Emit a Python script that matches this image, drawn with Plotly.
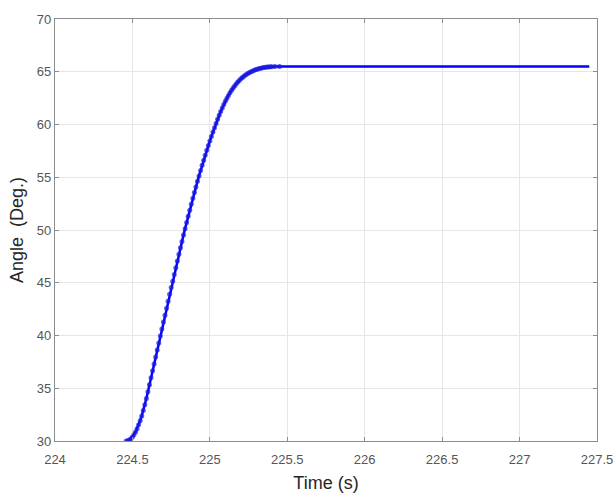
import plotly.graph_objects as go

# Time (s) and angle (deg)
time_s = [224.46, 224.47, 224.48, 224.49, 224.50, 224.51, 224.52, 224.53, 224.54, 224.55,
          224.56, 224.57, 224.58, 224.59, 224.60, 224.61, 224.62, 224.63, 224.64, 224.65,
          224.66, 224.67, 224.68, 224.69, 224.70, 224.71, 224.72, 224.73, 224.74, 224.75,
          224.76, 224.77, 224.78, 224.79, 224.80, 224.81, 224.82, 224.83, 224.84, 224.85,
          224.86, 224.87, 224.88, 224.89, 224.90, 224.91, 224.92, 224.93, 224.94, 224.95,
          224.96, 224.97, 224.98, 224.99, 225.00, 225.01, 225.02, 225.03, 225.04, 225.05,
          225.06, 225.07, 225.08, 225.09, 225.10, 225.11, 225.12, 225.13, 225.14, 225.15,
          225.16, 225.17, 225.18, 225.19, 225.20, 225.21, 225.22, 225.23, 225.24, 225.25,
          225.26, 225.27, 225.28, 225.29, 225.30, 225.31, 225.32, 225.33, 225.34, 225.35,
          225.36, 225.37, 225.38, 225.39, 225.40, 225.42, 225.45,
          225.50, 226.00, 226.50, 227.00, 227.45]
angle_deg = [30.00, 30.02, 30.10, 30.21, 30.38, 30.60, 30.86, 31.17, 31.53, 31.93,
             32.38, 32.88, 33.43, 34.03, 34.67, 35.33, 35.99, 36.65, 37.31, 37.97,
             38.63, 39.29, 39.95, 40.61, 41.27, 41.93, 42.59, 43.25, 43.90, 44.55,
             45.15, 45.79, 46.43, 47.06, 47.69, 48.31, 48.92, 49.53, 50.13, 50.72,
             51.31, 51.88, 52.45, 53.00, 53.55, 54.08, 54.61, 55.13, 55.63, 56.13,
             56.61, 57.09, 57.55, 58.00, 58.44, 58.87, 59.29, 59.70, 60.10, 60.49,
             60.87, 61.23, 61.57, 61.90, 62.21, 62.49, 62.76, 63.01, 63.24, 63.46,
             63.66, 63.85, 64.02, 64.18, 64.33, 64.46, 64.58, 64.69, 64.79, 64.88,
             64.96, 65.03, 65.10, 65.16, 65.21, 65.26, 65.30, 65.34, 65.37, 65.40,
             65.42, 65.44, 65.455, 65.47, 65.48, 65.495, 65.50,
             65.50, 65.50, 65.50, 65.50, 65.50]
# sample markers are only drawn where the record is densely sampled
marker_size = [5] * 97 + [0] * 5

x_ticks = [224, 224.5, 225, 225.5, 226, 226.5, 227, 227.5]
x_tick_labels = ["224", "224.5", "225", "225.5", "226", "226.5", "227", "227.5"]
y_ticks = [30, 35, 40, 45, 50, 55, 60, 65, 70]

fig = go.Figure()
fig.add_trace(go.Scatter(
    x=time_s, y=angle_deg, mode="lines+markers",
    line=dict(color="#0000ff", width=2.5),
    marker=dict(color="#1a1ae0", size=marker_size, line=dict(width=0)),
    showlegend=False,
))

axis_common = dict(
    showline=True, mirror="allticks", linecolor="#8c8c8c", linewidth=1.2,
    showgrid=True, gridcolor="#e6e6e6", gridwidth=1,
    ticks="inside", ticklen=4, tickcolor="#8c8c8c",
    tickfont=dict(family="Liberation Sans, Arial", size=13, color="#555555"),
    zeroline=False, automargin=False,
)

fig.update_layout(
    width=614, height=498,
    margin=dict(l=55, r=17, t=19, b=57),
    paper_bgcolor="white", plot_bgcolor="white",
    xaxis=dict(range=[224, 227.5], tickvals=x_ticks, ticktext=x_tick_labels,
               ticklabelstandoff=6,
               title=dict(text="Time (s)", standoff=10,
                          font=dict(family="Liberation Sans, Arial", size=18, color="#262626")),
               **axis_common),
    yaxis=dict(range=[30, 70], tickvals=y_ticks,
               title=dict(text="Angle  (Deg.)", standoff=8,
                          font=dict(family="Liberation Sans, Arial", size=18, color="#262626")),
               **axis_common),
)

fig.write_html("out.html")
